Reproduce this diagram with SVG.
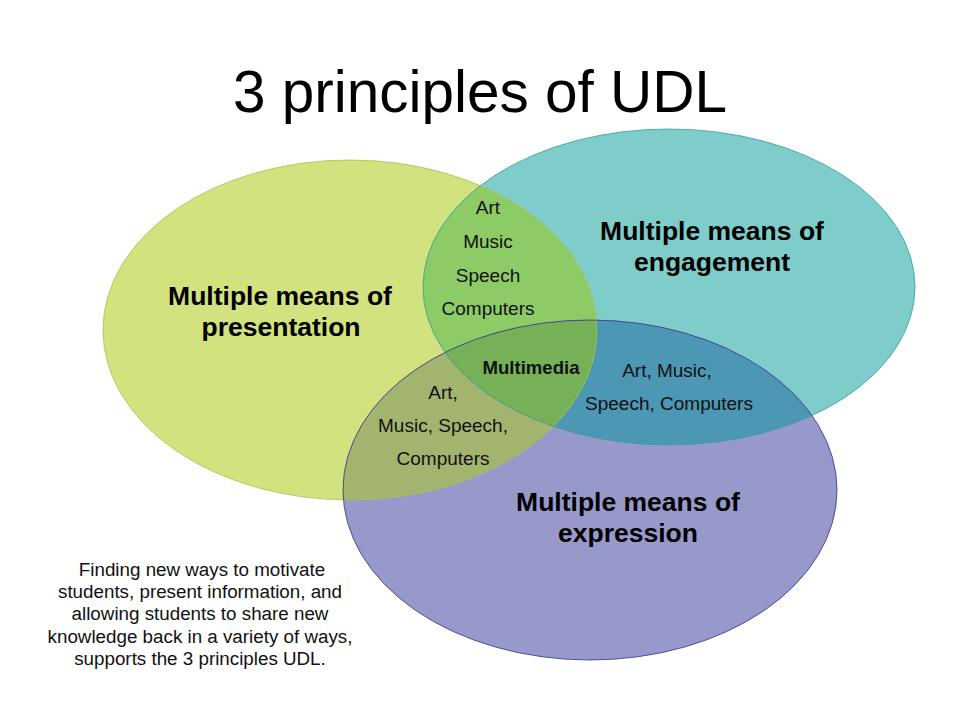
<svg xmlns="http://www.w3.org/2000/svg" width="960" height="720" viewBox="0 0 960 720">
<defs>
<style>
text{font-family:"Liberation Sans",Arial,sans-serif;fill:#000;text-anchor:middle}
.title{font-size:58.5px}
.lbl{font-size:26.5px;font-weight:bold}
.sm{font-size:19px;fill:#111}
.smb{font-size:18.6px;font-weight:bold;fill:#111}
.note{font-size:18.8px;fill:#111}
</style>
<clipPath id="cG"><ellipse cx="350" cy="330" rx="247" ry="170"/></clipPath>
<clipPath id="cT"><ellipse cx="669" cy="287" rx="246" ry="158"/></clipPath>
</defs>
<rect width="960" height="720" fill="#fff"/>
<text class="title" x="480" y="112">3 principles of UDL</text>

<g id="presentation">
<ellipse cx="350" cy="330" rx="247" ry="170" fill="#d2e27f"/>
</g>
<g id="engagement">
<ellipse cx="669" cy="287" rx="246" ry="158" fill="#7ecdcb"/>
</g>
<g id="expression">
<ellipse cx="590" cy="490" rx="247" ry="170" fill="#9899cb"/>
</g>
<g id="overlaps">
<ellipse cx="669" cy="287" rx="246" ry="158" fill="#8dcb66" clip-path="url(#cG)"/>
<ellipse cx="590" cy="490" rx="247" ry="170" fill="#a3b46f" clip-path="url(#cG)"/>
<ellipse cx="590" cy="490" rx="247" ry="170" fill="#4c97b3" clip-path="url(#cT)"/>
<g clip-path="url(#cG)"><ellipse cx="590" cy="490" rx="247" ry="170" fill="#76b158" clip-path="url(#cT)"/></g>
</g>
<g id="outlines" fill="none" stroke-width="1">
<ellipse cx="350" cy="330" rx="247" ry="170" stroke="#a6c44e" stroke-opacity="0.8"/>
<ellipse cx="669" cy="287" rx="246" ry="158" stroke="#3a9e9c" stroke-opacity="0.8"/>
<ellipse cx="590" cy="490" rx="247" ry="170" stroke="#3b3b8c" stroke-opacity="0.85"/>
</g>
<g id="connectors"/>

<g id="presentation-label">
<text class="lbl" x="280" y="305">Multiple means of</text>
<text class="lbl" x="281" y="336">presentation</text>
</g>
<g id="engagement-label">
<text class="lbl" x="712" y="240">Multiple means of</text>
<text class="lbl" x="712" y="271">engagement</text>
</g>
<g id="expression-label">
<text class="lbl" x="628" y="511">Multiple means of</text>
<text class="lbl" x="628" y="542">expression</text>
</g>
<g id="overlap-presentation-engagement">
<text class="sm" x="488" y="214">Art</text>
<text class="sm" x="488" y="248">Music</text>
<text class="sm" x="488" y="282">Speech</text>
<text class="sm" x="488" y="315">Computers</text>
</g>
<g id="overlap-all">
<text class="smb" x="531" y="374">Multimedia</text>
</g>
<g id="overlap-engagement-expression">
<text class="sm" x="667" y="377">Art, Music,</text>
<text class="sm" x="669" y="410">Speech, Computers</text>
</g>
<g id="overlap-presentation-expression">
<text class="sm" x="443" y="399">Art,</text>
<text class="sm" x="443" y="432">Music, Speech,</text>
<text class="sm" x="443" y="465">Computers</text>
</g>
<g id="note">
<text class="note" x="202" y="576">Finding new ways to motivate</text>
<text class="note" x="200" y="598">students, present information, and</text>
<text class="note" x="200" y="620">allowing students to share new</text>
<text class="note" x="200" y="643">knowledge back in a variety of ways,</text>
<text class="note" x="200" y="665">supports the 3 principles UDL.</text>
</g>
</svg>
